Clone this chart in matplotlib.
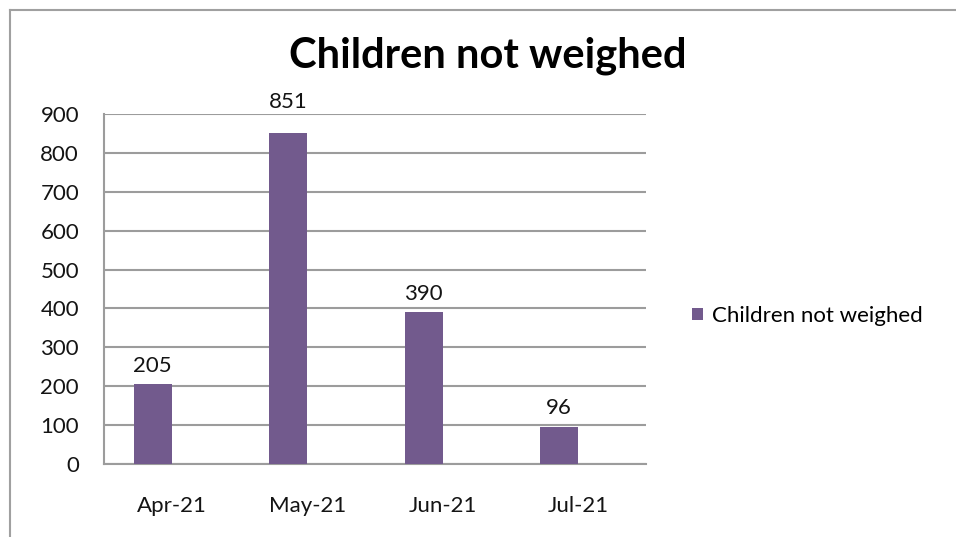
import matplotlib
matplotlib.use("Agg")
import matplotlib.pyplot as plt
from matplotlib.lines import Line2D
from matplotlib.patches import Patch

categories = ["Apr-21", "May-21", "Jun-21", "Jul-21"]
values = [205, 851, 390, 96]
series_name = "Children not weighed"
title = "Children not weighed"
yticks = [0, 100, 200, 300, 400, 500, 600, 700, 800, 900]

plt.rcParams['font.family'] = ['Lato', 'DejaVu Sans']
bar_color = "#725A8D"
grid_color = "#9C9C9C"
text_color = "#141414"
fs = 16

fig = plt.figure(figsize=(9.56, 5.37), dpi=100)
ax = fig.add_axes([104/956, 1-464/537, (646-104)/956, (464-114)/537])

ymax = yticks[-1]
x = list(range(len(categories)))
bar_w = 0.28
# bars sit left of the category centre (clustered layout)
bars = ax.bar(x, values, width=-bar_w, align="edge", color=bar_color, zorder=3)
for xi, v in zip(x, values):
    # labels near the top of the plot area are pushed above it
    off = 15 if v > 0.9 * ymax else 6
    ax.annotate(str(v), (xi - bar_w / 2, v), xytext=(0, off), textcoords="offset points",
                ha="center", va="bottom", fontsize=fs, color=text_color,
                annotation_clip=False)

ax.set_xlim(-0.5, len(categories) - 0.5)
ax.set_ylim(0, ymax)
ax.set_yticks(yticks)
ax.set_yticklabels([str(t) for t in yticks], fontsize=fs, color=text_color)
ax.set_xticks(x)
ax.set_xticklabels(categories, fontsize=fs, color=text_color)
ax.tick_params(axis="y", length=0, pad=18)
ax.tick_params(axis="x", length=0, pad=23)
ax.yaxis.grid(True, color=grid_color, linewidth=1.5, zorder=0)
ax.set_axisbelow(True)
for s in ["top", "right"]:
    ax.spines[s].set_visible(False)
ax.spines["left"].set_color(grid_color)
ax.spines["left"].set_linewidth(1.5)
ax.spines["bottom"].set_color(grid_color)
ax.spines["bottom"].set_linewidth(1.5)

fig.text(488/956, 1-56/537, title, ha="center", va="center",
         fontsize=30, fontweight="bold", color="black")

handle = Patch(facecolor=bar_color, edgecolor="none")
fig.legend([handle], [series_name], loc="center left",
           bbox_to_anchor=(681/956, 1-316/537), frameon=False,
           fontsize=fs, handlelength=0.5, handleheight=0.5,
           handletextpad=0.4, borderpad=0)

# outer chart border (top and left visible)
fig.add_artist(Line2D([10/956, 1.0], [1-10/537, 1-10/537], transform=fig.transFigure,
                      color="#A0A0A0", linewidth=1.5))
fig.add_artist(Line2D([10/956, 10/956], [0.0, 1-10/537], transform=fig.transFigure,
                      color="#A0A0A0", linewidth=1.5))

fig.savefig("out.png", dpi=100)
